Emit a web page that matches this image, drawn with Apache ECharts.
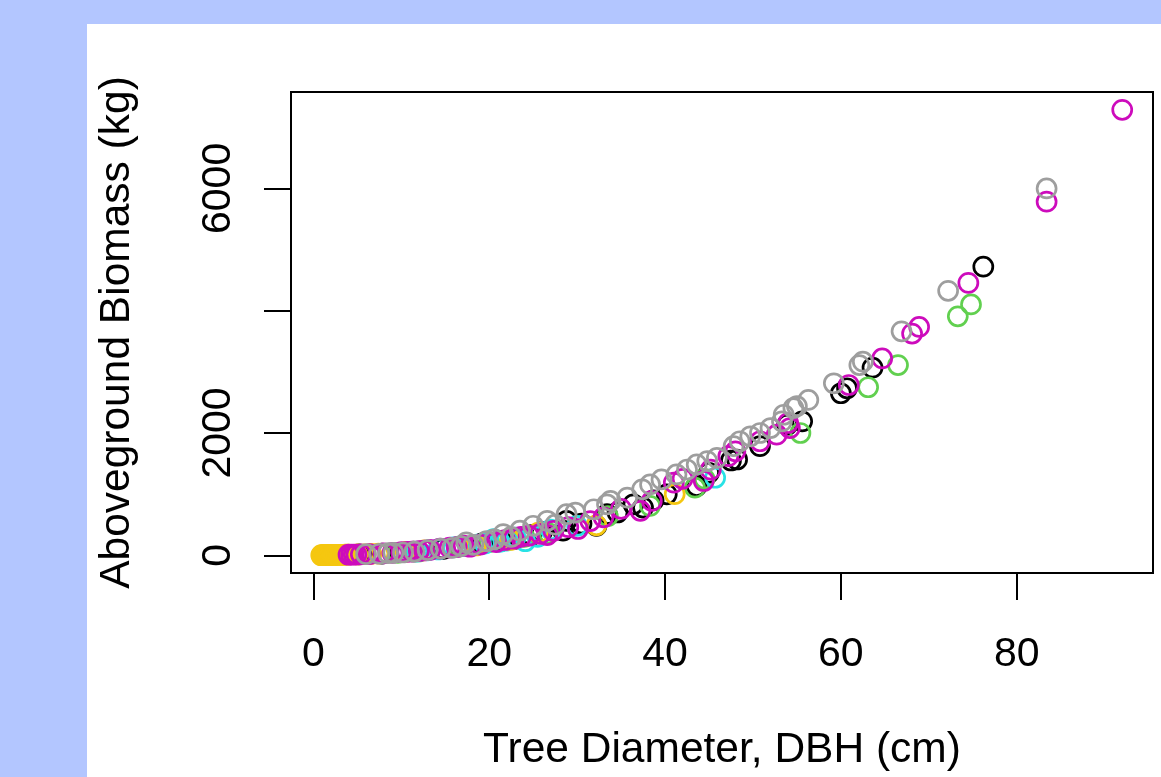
<!DOCTYPE html>
<html>
<head>
<meta charset="utf-8">
<title>Biomass vs DBH</title>
<script src="https://cdn.jsdelivr.net/npm/echarts@6/dist/echarts.min.js"></script>
<style>
    html, body { margin: 0; padding: 0; }
    #main { width: 1161px; height: 777px; }
</style>
</head>
<body>
<div id="main"></div>
<script>
// 数据: [DBH (cm), 生物量 (kg)]
var blackPts = [[5.2,14],[7.8,28],[11.4,62],[14.8,105],[19.2,195],[21.4,235],[22.9,270],[24.8,330],[26.0,380],[28.4,402],[28.8,564],[30.5,520],[32.2,480],[33.4,672],[34.6,700],[36.4,834],[37.5,780],[38.7,900],[40.2,997],[43.6,1133],[45.0,1350],[47.5,1550],[48.2,1566],[50.8,1784],[53.9,2135],[55.6,2190],[60.0,2650],[60.7,2732],[63.6,3068],[76.2,4720]];
var greenPts = [[9.6,40],[12.0,62],[16.5,140],[20.0,215],[24.0,300],[26.8,360],[33.5,640],[38.3,808],[43.4,1106],[44.5,1250],[55.4,2000],[63.1,2748],[66.5,3111],[73.3,3908],[74.8,4103]];
var cyanPts = [[11.8,60],[13.0,80],[14.2,95],[15.9,130],[17.0,150],[18.6,175],[19.5,190],[20.5,265],[21.2,220],[22.0,240],[23.0,290],[24.1,230],[25.5,300],[27.0,420],[30.0,480],[45.7,1268]];
var yellowPts = [[0.9,1],[1.0,1],[1.1,1],[1.2,2],[1.3,2],[1.4,2],[1.5,2],[1.6,3],[1.7,3],[1.8,3],[1.9,3],[2.0,4],[2.1,4],[2.2,4],[2.3,5],[2.4,5],[2.6,5],[2.8,6],[3.0,7],[3.2,8],[3.4,8],[3.6,9],[3.8,10],[4.0,10],[5.0,13],[5.8,17],[6.6,22],[7.4,27],[10.5,55],[12.6,80],[18.5,160],[22.4,250],[25.6,370],[32.2,490],[41.1,1000]];
var magentaPts = [[4.0,9],[4.3,10],[4.6,11],[4.9,12],[5.4,15],[6.4,20],[8.0,30],[9.0,38],[10.0,50],[10.7,55],[11.2,62],[12.0,70],[12.6,78],[13.3,88],[14.4,110],[15.5,125],[16.3,135],[17.1,158],[17.8,140],[19.0,175],[20.8,215],[21.8,250],[22.8,270],[23.6,300],[24.5,320],[25.8,350],[26.6,330],[27.3,400],[29.0,460],[30.1,430],[31.5,560],[33.0,620],[35.0,760],[37.2,727],[38.5,889],[41.0,1187],[42.0,1250],[44.4,1215],[45.2,1400],[47.2,1621],[48.0,1700],[50.8,1865],[52.7,1972],[54.0,2163],[54.2,2081],[60.9,2785],[64.7,3220],[68.1,3626],[68.9,3735],[74.5,4455],[83.4,5784],[92.0,7285]];
var grayPts = [[6.0,18],[7.5,25],[8.5,35],[9.1,40],[10.2,45],[11.5,60],[13.0,85],[14.5,110],[15.8,120],[16.8,150],[17.4,211],[18.2,170],[19.7,230],[20.6,260],[21.6,346],[22.5,300],[23.5,402],[25.0,483],[26.6,564],[27.5,500],[28.8,672],[29.8,699],[31.9,753],[33.4,834],[33.8,889],[35.7,943],[37.4,1078],[38.3,1159],[39.6,1241],[41.3,1322],[42.5,1403],[43.6,1485],[44.8,1540],[45.9,1593],[47.8,1784],[48.5,1865],[49.7,1946],[50.8,2000],[52.0,2081],[53.3,2190],[53.5,2298],[54.6,2407],[55.0,2439],[56.3,2541],[59.2,2813],[62.1,3111],[62.5,3166],[66.9,3663],[72.2,4325],[83.4,6000]];

// 刻度
var xTicks = [0, 20, 40, 60, 80];
var yTicks = [0, 2000, 4000, 6000];
var yLabels = [0, 2000, 6000];   // 4000 的标签在原图中没有显示

var font = "'Liberation Sans', Arial, Helvetica, sans-serif";

function ring(name, color, data) {
    return {
        name: name,
        type: 'scatter',
        symbol: 'circle',
        symbolSize: 19,
        itemStyle: { color: 'transparent', borderColor: color, borderWidth: 2.7, opacity: 1 },
        emphasis: { disabled: true },
        data: data
    };
}

// 不要千位分隔符
function plain(v) { return String(v); }

var myChart = echarts.init(document.getElementById('main'));
myChart.setOption({
    animation: false,
    backgroundColor: '#b3c6ff',
    graphic: [{
        type: 'rect',
        z: -100,
        shape: { x: 87, y: 24, width: 1074, height: 753 },
        style: { fill: '#ffffff' }
    }],
    grid: {
        left: 291, top: 92, width: 862, height: 484,
        show: true,
        backgroundColor: 'transparent',
        borderColor: '#000',
        borderWidth: 2
    },
    xAxis: {
        type: 'value',
        min: -2.54, max: 95.5,
        name: 'Tree Diameter, DBH (cm)',
        nameLocation: 'middle',
        nameGap: 156,
        nameTextStyle: { fontFamily: font, fontSize: 42.5, color: '#000' },
        splitLine: { show: false },
        axisLine: { show: true, onZero: false, lineStyle: { color: '#000', width: 2 } },
        axisTick: { show: true, inside: false, length: 27, customValues: xTicks, lineStyle: { color: '#000', width: 2 } },
        axisLabel: { customValues: xTicks, formatter: plain, margin: 61, fontFamily: font, fontSize: 41, color: '#000' }
    },
    yAxis: {
        type: 'value',
        min: -290, max: 7577,
        name: 'Aboveground Biomass (kg)',
        nameLocation: 'middle',
        nameGap: 152,
        nameTextStyle: { fontFamily: font, fontSize: 42.5, color: '#000' },
        splitLine: { show: false },
        axisLine: { show: true, onZero: false, lineStyle: { color: '#000', width: 2 } },
        axisTick: { show: true, inside: false, length: 27, customValues: yTicks, lineStyle: { color: '#000', width: 2 } },
        axisLabel: { customValues: yLabels, formatter: plain, rotate: 90, margin: 52, fontFamily: font, fontSize: 41, color: '#000' }
    },
    series: [
        ring('black', '#000000', blackPts),
        ring('green', '#61D04F', greenPts),
        ring('cyan', '#28E2E5', cyanPts),
        ring('yellow', '#F5C710', yellowPts),
        ring('magenta', '#CD0BBC', magentaPts),
        ring('gray', '#9E9E9E', grayPts)
    ]
});
</script>
</body>
</html>
